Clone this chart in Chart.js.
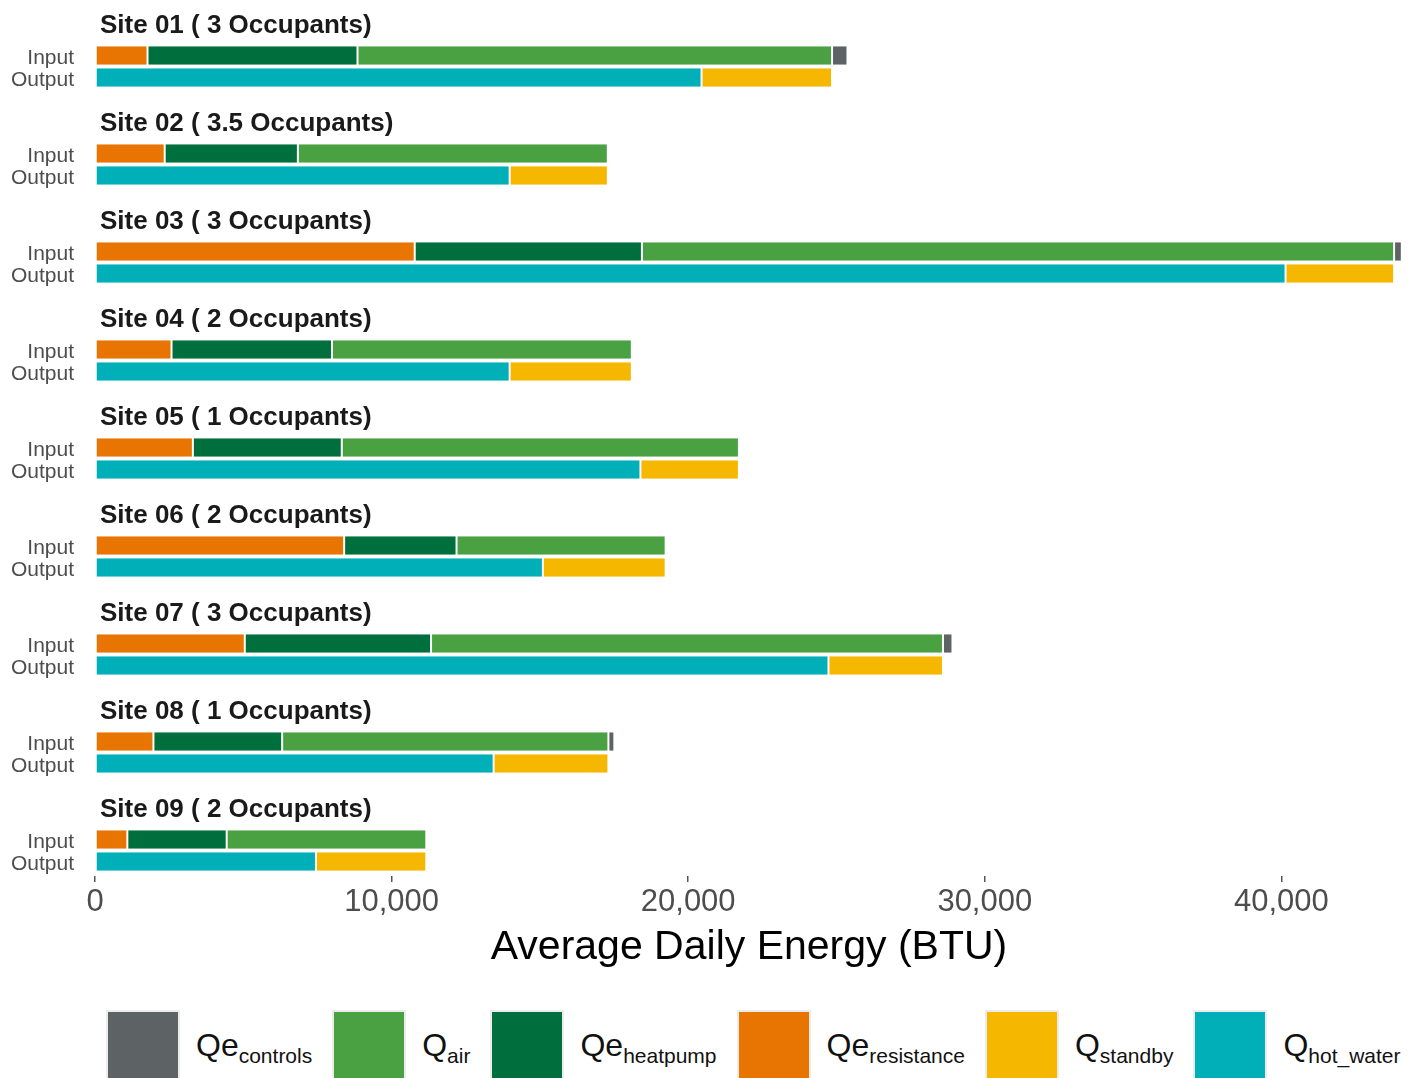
<!DOCTYPE html>
<html>
<head>
<meta charset="utf-8">
<script src="https://cdn.jsdelivr.net/npm/chart.js@4.4.1/dist/chart.umd.min.js"></script>
<style>
  body { margin: 0; background: #fff; overflow: hidden; font-family: "Liberation Sans", Arial, sans-serif; }
  #wrap { position: relative; width: 1416px; height: 1078px; }
  #energyChart { position: absolute; left: 0; top: 0; }
  #legend { position: absolute; top: 1012px; left: 108px; display: flex; align-items: center; }
  .leg-item { display: flex; align-items: center; margin-right: 22px; }
  .leg-box { width: 70px; height: 70px; outline: 2px solid #ececec; margin-right: 18px; }
  .leg-text { font-size: 32px; color: #111; white-space: nowrap; }
  .leg-text sub { font-size: 21px; vertical-align: -7px; }
</style>
</head>
<body>
<div id="wrap">
  <canvas id="energyChart" width="1416" height="1000"></canvas>
  <div id="legend"></div>
</div>
<script>
const sites = ['Site 01', 'Site 02', 'Site 03', 'Site 04', 'Site 05', 'Site 06', 'Site 07', 'Site 08', 'Site 09'];
const occupants = [3, 3.5, 3, 2, 1, 2, 3, 1, 2];

// input side (BTU / day)
const qeResistance = [1770, 2350, 10780, 2580, 3300, 8400, 5050, 1970, 1090];
const qeHeatpump = [7080, 4490, 7660, 5410, 5020, 3790, 6280, 4340, 3350];
const qAir = [16000, 10450, 25360, 10110, 13390, 7050, 17260, 11000, 6730];
const qeControls = [520, 0, 260, 0, 0, 0, 320, 200, 0];

// output side
const qHotWater = [20450, 13980, 40140, 13980, 18390, 15100, 24730, 13440, 7450];
const qStandby = [4400, 3310, 3660, 4120, 3320, 4140, 3860, 3870, 3720];

const xTicks = [0, 10000, 20000, 30000, 40000];
const rowLabels = ['Input', 'Output'];
const legendOrder = ['Qe_controls', 'Q_air', 'Qe_heatpump', 'Qe_resistance', 'Q_standby', 'Q_hot_water'];

Chart.defaults.font.family = '"Liberation Sans", Arial, sans-serif';

function series(label, values, stack, color) {
    return {
        label: label,
        stack: stack,
        data: values.map((v, i) => ({ x: v, y: i })),
        backgroundColor: color,
        borderColor: '#ffffff',
        borderWidth: { left: 1, right: 1, top: 0, bottom: 0 },
        borderSkipped: false,
        categoryPercentage: 0.449,
        barPercentage: 0.845
    };
}

const facetTitles = {
    id: 'facetTitles',
    afterDatasetsDraw(chart) {
        const ctx = chart.ctx;
        const yScale = chart.scales.y;
        ctx.save();
        ctx.font = 'bold 26px "Liberation Sans", Arial, sans-serif';
        ctx.fillStyle = '#1a1a1a';
        ctx.textAlign = 'left';
        ctx.textBaseline = 'alphabetic';
        sites.forEach((s, i) => {
            const y = yScale.getPixelForValue(i) - 34;
            ctx.fillText(s + ' ( ' + occupants[i] + ' Occupants)', chart.chartArea.left + 5, y);
        });
        ctx.restore();
    }
};

const ctx = document.getElementById('energyChart').getContext('2d');
const chart = new Chart(ctx, {
    type: 'bar',
    data: {
        datasets: [
            series('Qe_resistance', qeResistance, 'Input', '#e87502'),
            series('Qe_heatpump', qeHeatpump, 'Input', '#006f3e'),
            series('Q_air', qAir, 'Input', '#4aa142'),
            series('Qe_controls', qeControls, 'Input', '#5d6264'),
            series('Q_hot_water', qHotWater, 'Output', '#00afb8'),
            series('Q_standby', qStandby, 'Output', '#f5b700')
        ]
    },
    options: {
        indexAxis: 'y',
        responsive: false,
        animation: false,
        layout: {
            padding: { left: 0, right: 13, top: 17.5, bottom: 24 }
        },
        plugins: {
            legend: { display: false },
            tooltip: { enabled: false }
        },
        scales: {
            x: {
                type: 'linear',
                stacked: true,
                min: 0,
                max: 44100,
                afterBuildTicks: function(scale) {
                    scale.ticks = xTicks.map(v => ({ value: v }));
                },
                afterFit: function(scale) {
                    scale.height = 100;
                    scale.paddingLeft = 0;
                    scale.paddingRight = 0;
                },
                ticks: {
                    callback: function(value) {
                        return value.toLocaleString('en-US');
                    },
                    color: '#4d4d4d',
                    font: { size: 31 },
                    padding: 2,
                    maxRotation: 0
                },
                grid: {
                    drawOnChartArea: false,
                    drawTicks: true,
                    tickLength: 6,
                    color: '#555555',
                    lineWidth: 1.5
                },
                border: { display: false },
                title: {
                    display: true,
                    text: 'Average Daily Energy (BTU)',
                    color: '#000000',
                    font: { size: 41 },
                    padding: { top: 0, bottom: 4 }
                }
            },
            y: {
                type: 'linear',
                reverse: true,
                offset: false,
                bounds: 'data',
                min: -0.5,
                max: 8.26,
                afterBuildTicks: function(scale) {
                    scale.ticks = sites.map((s, i) => ({ value: i }));
                },
                afterFit: function(scale) {
                    scale.width = 95;
                    scale.paddingTop = 0;
                    scale.paddingBottom = 0;
                },
                ticks: {
                    autoSkip: false,
                    callback: function() {
                        return rowLabels;
                    },
                    color: '#4d4d4d',
                    font: { size: 21, lineHeight: '22px' },
                    padding: 21,
                    labelOffset: 3
                },
                grid: { display: false, drawTicks: false, offset: false },
                border: { display: false }
            }
        }
    },
    plugins: [facetTitles]
});

// legend in ggplot order, built from the chart datasets
const legendEl = document.getElementById('legend');
legendOrder.forEach(key => {
    const ds = chart.data.datasets.find(d => d.label === key);
    const cut = key.indexOf('_');
    const item = document.createElement('div');
    item.className = 'leg-item';
    item.innerHTML = '<div class="leg-box" style="background:' + ds.backgroundColor + '"></div>' +
        '<span class="leg-text">' + key.slice(0, cut) + '<sub>' + key.slice(cut + 1) + '</sub></span>';
    legendEl.appendChild(item);
});
</script>
</body>
</html>
